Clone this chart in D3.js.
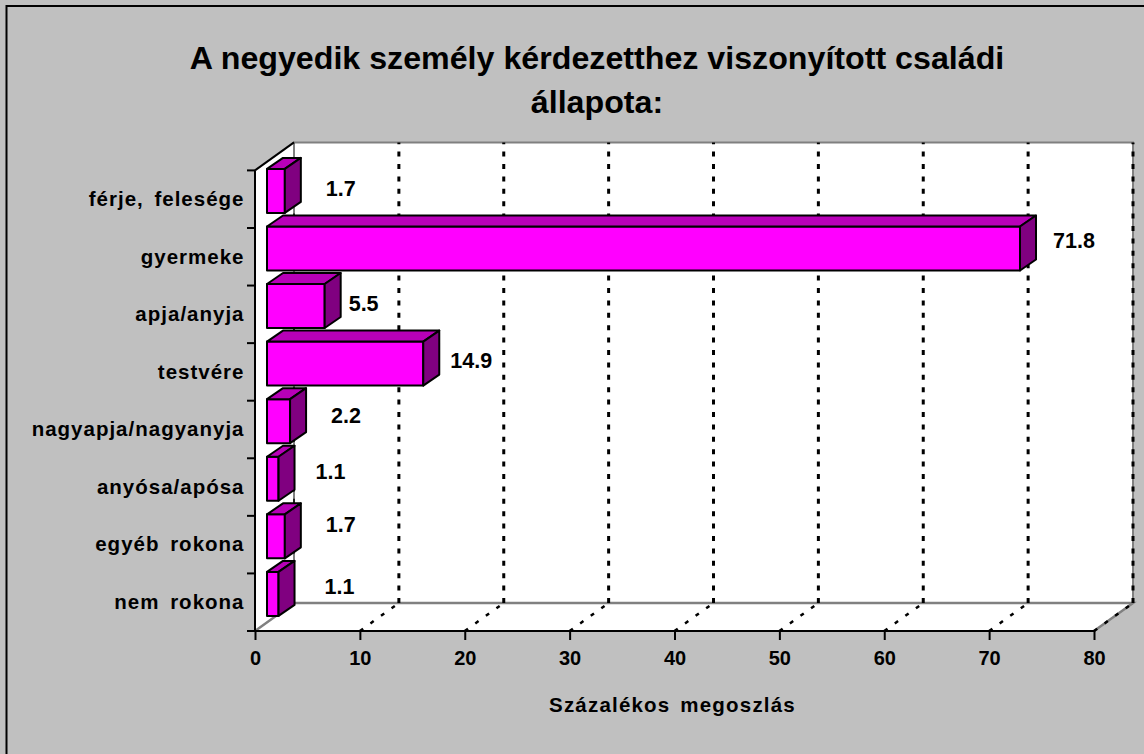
<!DOCTYPE html>
<html><head><meta charset="utf-8">
<style>html,body{margin:0;padding:0;background:#fff}svg{display:block}text{font-family:"Liberation Sans",Arial,sans-serif;font-weight:700;fill:#000}</style>
<script src="https://cdn.jsdelivr.net/npm/d3@7/dist/d3.min.js"></script>
</head><body><svg id="c" width="1144" height="754"></svg>
<script>
const categories = ["férje, felesége","gyermeke","apja/anyja","testvére","nagyapja/nagyanyja","anyósa/apósa","egyéb rokona","nem rokona"];
const values = [1.7,71.8,5.5,14.9,2.2,1.1,1.7,1.1];
const labelTexts = ["1.7","71.8","5.5","14.9","2.2","1.1","1.7","1.1"];
const xTicks = [0,10,20,30,40,50,60,70,80];
const labelNudgeX = [25,17,8,11,25,21,25,30];
const labelNudgeY = [1,-5,1,0,-2,-4,-9,-4];
const titleLines = ["A negyedik személy kérdezetthez viszonyított családi","állapota:"];
const xTitle = "Százalékos megoszlás";

const svg = d3.select("#c");
const X0=255,X1=1094,Y0=170.4,Y1=631,DX=39,DY=-28;
const x=d3.scaleLinear().domain([0,80]).range([X0,X1]);
const y=d3.scaleBand().domain(categories).range([Y0,Y1]);
const grey="#808080", bg="#c0c0c0";
svg.append("rect").attr("width",1144).attr("height",754).attr("fill",bg);
svg.append("rect").attr("x",6.5).attr("y",6).attr("width",1160).attr("height",780).attr("fill","none").attr("stroke","#000").attr("stroke-width",2);

svg.append("text").selectAll("tspan").data(titleLines).join("tspan")
 .attr("x",597).attr("y",(d,i)=>[69,113][i]).attr("text-anchor","middle").attr("font-size",32.2).text(d=>d);

// walls
const wall=[[X0,Y1],[X0,Y0],[X0+DX,Y0+DY],[X1+DX,Y0+DY],[X1+DX,Y1+DY],[X1,Y1]];
svg.append("path").attr("d",d3.line()(wall)+"Z").attr("fill","#fff");
svg.append("path").attr("d",d3.line()([[X0+DX,Y1+DY],[X0+DX,Y0+DY],[X1+DX,Y0+DY],[X1+DX,Y1+DY]])).attr("fill","none").attr("stroke",grey).attr("stroke-width",2);
svg.append("path").attr("d",d3.line()([[X0,Y1],[X0+DX,Y1+DY],[X1+DX,Y1+DY],[X1,Y1]])).attr("fill","none").attr("stroke",grey).attr("stroke-width",2.5);
// gridlines
xTicks.forEach(t=>{
 const px=x(t);
 if(t===0){
  svg.append("path").attr("d",d3.line()([[px+DX,Y1+DY],[px+DX,Y0+DY+28]])).attr("fill","none").attr("stroke","#000").attr("stroke-width",1.5).attr("stroke-dasharray","5 7.4");
  return;
 }
 svg.append("path").attr("d",d3.line()([[px,Y1],[px+DX,Y1+DY]])).attr("fill","none").attr("stroke","#000").attr("stroke-width",2.5).attr("stroke-dasharray","4 9");
 svg.append("path").attr("d",d3.line()([[px+DX,Y1+DY],[px+DX,Y0+DY]])).attr("fill","none").attr("stroke","#000").attr("stroke-width",3).attr("stroke-dasharray","5 7.4");
});
svg.append("path").attr("d",d3.line()([[X0,Y0],[X0+DX,Y0+DY]])).attr("stroke","#000").attr("stroke-width",2).attr("fill","none");

// bars
const barH=44,barX=12,depthX=16,depthY=-11,barUp=-8.3;
const g=svg.append("g").attr("stroke","#000").attr("stroke-width",2).attr("stroke-linejoin","round");
categories.forEach((c,i)=>{
 const x0=x(0)+barX, x1=x(values[i])+barX, yb=y(c)+y.bandwidth()/2+barUp+barH/2, yt=yb-barH;
 g.append("path").attr("fill","#ff00ff").attr("d",d3.line()([[x0,yt],[x1,yt],[x1,yb],[x0,yb]])+"Z");
 g.append("path").attr("fill","#b800b8").attr("d",d3.line()([[x0,yt],[x0+depthX,yt+depthY],[x1+depthX,yt+depthY],[x1,yt]])+"Z");
 g.append("path").attr("fill","#800080").attr("d",d3.line()([[x1,yt],[x1+depthX,yt+depthY],[x1+depthX,yb+depthY],[x1,yb]])+"Z");
});
// axes
const xAxis=d3.axisBottom(x).tickValues(xTicks).tickSize(9).tickPadding(6).tickFormat(d3.format("d"));
const ax=svg.append("g").attr("transform",`translate(0,${Y1})`).call(xAxis);
ax.selectAll("text").attr("font-size",20).attr("y",null).attr("dy",null).attr("transform","translate(0,34)");
ax.selectAll("line,path").attr("stroke","#000").attr("stroke-width",2);
ax.select("path").attr("d",`M${X0-8},0H${X1}`);
const yAxis=d3.axisLeft(y).tickSizeOuter(0).tickSize(0).tickPadding(14);
const ay=svg.append("g").attr("transform",`translate(${X0},0)`).call(yAxis);
ay.select("path").attr("stroke","#000").attr("stroke-width",2).attr("d",`M0,${Y0}V${Y1}`);
ay.selectAll("text").attr("font-size",20.5).attr("letter-spacing",1).attr("word-spacing",4).attr("text-anchor","end").attr("dy","0.33em").attr("x",-10.5);
[...categories.map(c=>y(c)),Y1].forEach(p=>ay.append("line").attr("x1",-8).attr("x2",0).attr("y1",p).attr("y2",p).attr("stroke","#000").attr("stroke-width",2));
// value labels
categories.forEach((c,i)=>{
 svg.append("text").attr("x",x(values[i])+barX+depthX+labelNudgeX[i]).attr("y",y(c)+y.bandwidth()/2-4+labelNudgeY[i]).attr("font-size",21.5).text(labelTexts[i]);
});
svg.append("text").attr("x",672.5).attr("y",712).attr("text-anchor","middle").attr("font-size",20.5).attr("letter-spacing",1.2).attr("word-spacing",3).text(xTitle);
</script></body></html>
